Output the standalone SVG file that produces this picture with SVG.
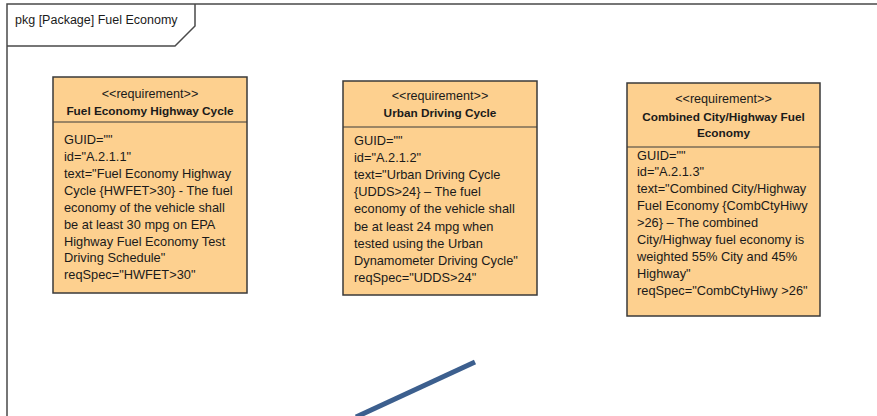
<svg xmlns="http://www.w3.org/2000/svg" width="877" height="416" viewBox="0 0 877 416">
  <style>
    .frame { fill: none; stroke: #4a4a4a; stroke-width: 1.5; }
    .box { fill: #fdd08f; stroke: #3a3a3a; stroke-width: 1.5; }
    .sep { stroke: #3a3a3a; stroke-width: 1.2; }
    .st { font-family: "Liberation Sans", Arial, sans-serif; font-size: 12.6px; fill: #1a1a1a; text-anchor: middle; }
    .nm { font-family: "Liberation Sans", Arial, sans-serif; font-size: 11.8px; font-weight: bold; fill: #1a1a1a; text-anchor: middle; }
    .bd { font-family: "Liberation Sans", Arial, sans-serif; font-size: 12.8px; fill: #1a1a1a; }
    .lbl { font-family: "Liberation Sans", Arial, sans-serif; font-size: 12.5px; fill: #1a1a1a; }
    .link { fill: none; stroke: #3c5f8e; stroke-width: 5; }
  </style>

  <rect x="0" y="0" width="877" height="416" fill="#ffffff"/>

  <!-- package frame and name tab -->
  <g id="package-frame">
    <path class="frame" d="M7,416 V4 H877"/>
    <path class="frame" d="M195,4 V26 L175,46 H7"/>
    <text class="lbl" x="15" y="24">pkg [Package] Fuel Economy</text>
  </g>

  <g id="req-highway">
    <rect class="box" x="53" y="77" width="194" height="216"/>
    <line class="sep" x1="53" y1="122" x2="247" y2="122"/>
    <text class="st" x="150" y="98">&lt;&lt;requirement&gt;&gt;</text>
    <text class="nm" x="150" y="115">Fuel Economy Highway Cycle</text>
    <text class="bd" x="64" y="144">GUID=""</text>
    <text class="bd" x="64" y="161">id="A.2.1.1"</text>
    <text class="bd" x="64" y="177.5">text="Fuel Economy Highway</text>
    <text class="bd" x="64" y="194.5">Cycle {HWFET&gt;30} - The fuel</text>
    <text class="bd" x="64" y="211.5">economy of the vehicle shall</text>
    <text class="bd" x="64" y="228.5">be at least 30 mpg on EPA</text>
    <text class="bd" x="64" y="245.5">Highway Fuel Economy Test</text>
    <text class="bd" x="64" y="262">Driving Schedule"</text>
    <text class="bd" x="64" y="278.5">reqSpec="HWFET&gt;30"</text>
  </g>

  <g id="req-urban">
    <rect class="box" x="343" y="81" width="194" height="214"/>
    <line class="sep" x1="343" y1="127" x2="537" y2="127"/>
    <text class="st" x="440" y="100">&lt;&lt;requirement&gt;&gt;</text>
    <text class="nm" x="440" y="117">Urban Driving Cycle</text>
    <text class="bd" x="354" y="145">GUID=""</text>
    <text class="bd" x="354" y="161.5">id="A.2.1.2"</text>
    <text class="bd" x="354" y="179">text="Urban Driving Cycle</text>
    <text class="bd" x="354" y="196">{UDDS&gt;24} – The fuel</text>
    <text class="bd" x="354" y="213">economy of the vehicle shall</text>
    <text class="bd" x="354" y="230.5">be at least 24 mpg when</text>
    <text class="bd" x="354" y="248">tested using the Urban</text>
    <text class="bd" x="354" y="265">Dynamometer Driving Cycle"</text>
    <text class="bd" x="354" y="282">reqSpec="UDDS&gt;24"</text>
  </g>

  <g id="req-combined">
    <rect class="box" x="627" y="83" width="193" height="233"/>
    <line class="sep" x1="627" y1="147" x2="820" y2="147"/>
    <text class="st" x="723.5" y="103">&lt;&lt;requirement&gt;&gt;</text>
    <text class="nm" x="723.5" y="121">Combined City/Highway Fuel</text>
    <text class="nm" x="723.5" y="137">Economy</text>
    <text class="bd" x="637" y="159.5">GUID=""</text>
    <text class="bd" x="637" y="176">id="A.2.1.3"</text>
    <text class="bd" x="637" y="192.5">text="Combined City/Highway</text>
    <text class="bd" x="637" y="210">Fuel Economy {CombCtyHiwy</text>
    <text class="bd" x="637" y="226.5">&gt;26} – The combined</text>
    <text class="bd" x="637" y="243.5">City/Highway fuel economy is</text>
    <text class="bd" x="637" y="261">weighted 55% City and 45%</text>
    <text class="bd" x="637" y="278">Highway"</text>
    <text class="bd" x="637" y="294.5">reqSpec="CombCtyHiwy &gt;26"</text>
  </g>

  <g id="connectors">
    <line class="link" x1="475" y1="362" x2="356" y2="417"/>
  </g>
</svg>
